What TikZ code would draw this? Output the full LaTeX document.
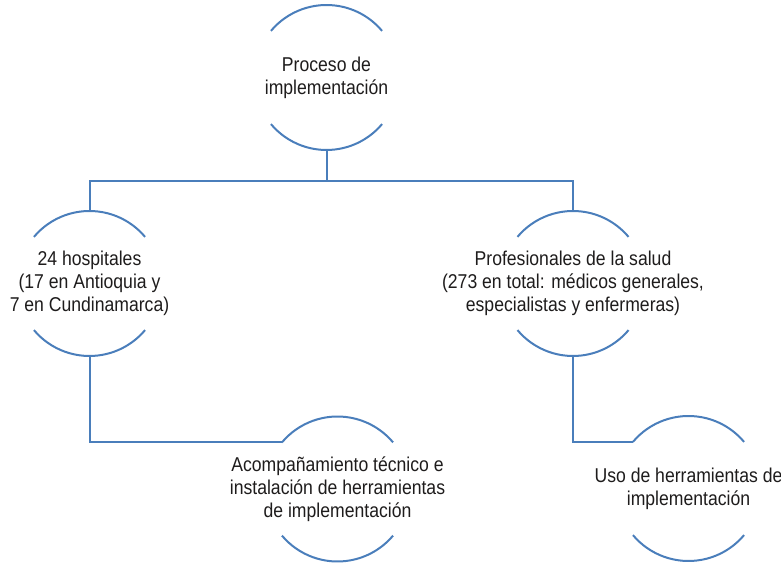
\documentclass[tikz,border=0pt]{standalone}
\usepackage{fontspec}
\setmainfont{Liberation Sans}[FakeStretch=0.88]
\definecolor{lineblue}{RGB}{74,126,187}
\definecolor{txt}{RGB}{30,28,28}
\begin{document}
\begin{tikzpicture}[x=1pt,y=1pt,
  lbl/.style={inner sep=0pt,align=center,text=txt,
    font=\fontsize{20}{23}\selectfont},
  arcs/.style={draw=lineblue,line width=2pt},
  conn/.style={draw=lineblue,line width=2pt}]
\useasboundingbox (0,0) rectangle (781,562);
% nodes
\node[lbl] (top)   at (326.5,484.5) {Proceso de\\implementación};
\node[lbl] (hosp)  at (89.5,278.5)  {24 hospitales\\(17 en Antioquia y\\7 en Cundinamarca)};
\node[lbl] (prof)  at (573,278.5)   {Profesionales de la salud\\(273 en total: médicos generales,\\especialistas y enfermeras)};
\node[lbl] (acomp) at (337.5,73)    {Acompañamiento técnico e\\instalación de herramientas\\de implementación};
\node[lbl] (uso)   at (688.5,73.5)  {Uso de herramientas de\\implementación};
% arcs
\foreach \n in {top,hosp,prof,acomp,uso}{
  \draw[arcs] ([shift={(140:72.5pt)}]\n.center) arc[start angle=140,end angle=40,radius=72.5];
  \draw[arcs] ([shift={(-140:72.5pt)}]\n.center) arc[start angle=-140,end angle=-40,radius=72.5];
  \coordinate (\n N) at ([yshift=72.5pt]\n.center);
  \coordinate (\n S) at ([yshift=-72.5pt]\n.center);
  \coordinate (\n W) at ([shift={(140:72.5pt)}]\n.center);
}
\coordinate (j) at (326.5,380.5);
% connectors
\draw[conn] (topS) -- (j) -| (hospN);
\draw[conn] (j) -| (profN);
\draw[conn] (hospS) |- (acompW);
\draw[conn] (profS) |- (usoW);
\end{tikzpicture}
\end{document}
